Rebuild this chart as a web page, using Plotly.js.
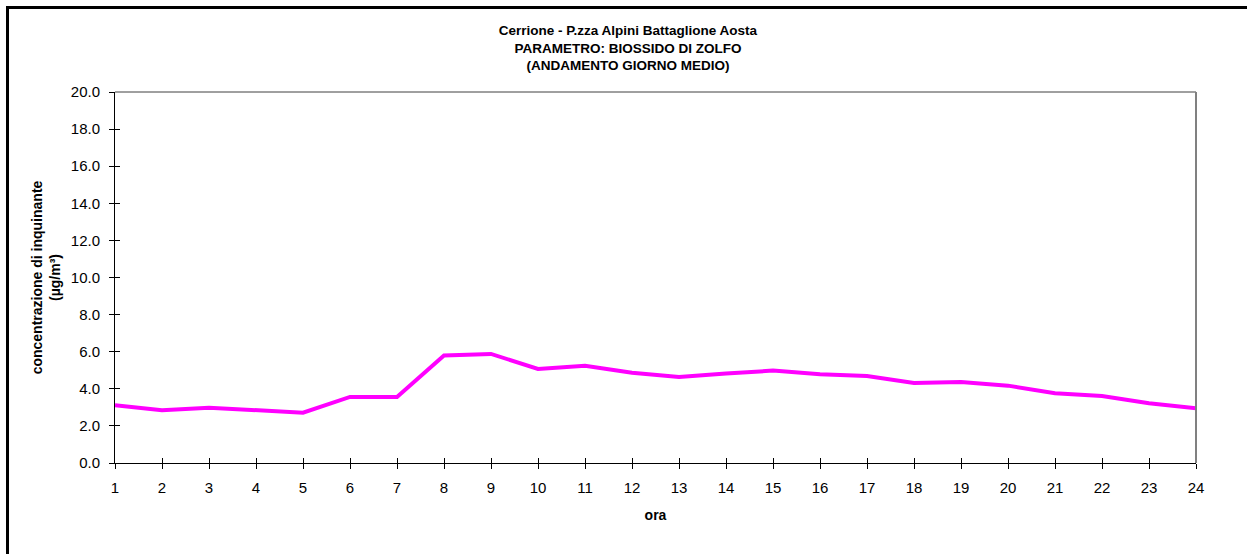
<!DOCTYPE html>
<html>
<head>
<meta charset="utf-8">
<script src="https://cdn.plot.ly/plotly-3.0.1.min.js"></script>
<style>
html,body{margin:0;padding:0;background:#fff;overflow:hidden;}
#wrap{position:relative;width:1247px;height:554px;}
#frame{position:absolute;left:6px;top:6px;width:1400px;height:700px;border:3px solid #000;pointer-events:none;z-index:10;}
#chart{position:absolute;left:0;top:0;width:1247px;height:554px;}
</style>
</head>
<body>
<div id="wrap"><div id="chart"></div><div id="frame"></div></div>
<script>
const hours = [1,2,3,4,5,6,7,8,9,10,11,12,13,14,15,16,17,18,19,20,21,22,23,24];
const so2 = [3.11,2.84,2.98,2.84,2.71,3.56,3.56,5.80,5.88,5.07,5.24,4.87,4.64,4.83,4.98,4.78,4.69,4.31,4.37,4.17,3.76,3.61,3.22,2.95];
const titleLines = ["Cerrione - P.zza Alpini Battaglione Aosta","PARAMETRO: BIOSSIDO DI ZOLFO","(ANDAMENTO GIORNO MEDIO)"];
const xTitle = "ora";
const yTitle = "concentrazione di inquinante<br>(µg/m³)";

const font = "Arial, 'Liberation Sans', sans-serif";
const trace = {x: hours, y: so2, type: 'scatter', mode: 'lines',
  line: {color: '#FF00FF', width: 4}, hoverinfo: 'skip', showlegend: false};
const dummy = {x: [1,24], y: [0,0], xaxis: 'x2', yaxis: 'y2', mode: 'markers',
  marker: {opacity: 0}, hoverinfo: 'skip', showlegend: false};

const layout = {
  width: 1247, height: 554,
  margin: {l: 115, r: 51, t: 92, b: 91},
  paper_bgcolor: '#fff', plot_bgcolor: '#fff',
  font: {family: font, color: '#000', size: 15},
  title: {text: '<b>' + titleLines.join('<br>') + '</b>', font: {family: font, size: 13.5, color: '#000'},
    x: 0.5036, xref: 'container', xanchor: 'center', y: 1 - 35/554, yref: 'container', yanchor: 'top'},
  xaxis: {range: [1, 24], tickmode: 'array', tickvals: hours, ticktext: hours.map(String),
    showgrid: false, zeroline: false, showline: true, linecolor: '#000', linewidth: 1,
    ticks: 'outside', ticklen: 5, tickcolor: '#000', tickwidth: 1, ticklabelstandoff: 6,
    tickfont: {size: 15},
    title: {text: '<b>' + xTitle + '</b>', font: {size: 14}, standoff: 15}},
  yaxis: {range: [0, 20], dtick: 2, tick0: 0, tickformat: '.1f',
    showgrid: false, zeroline: false, showline: true, linecolor: '#000', linewidth: 1,
    ticks: 'outside', ticklen: 5, tickcolor: '#000', tickwidth: 1, ticklabelstandoff: 6,
    tickfont: {size: 15},
    title: {text: '<b>' + yTitle + '</b>', font: {size: 14}, standoff: 6}},
  xaxis2: {overlaying: 'x', matches: 'x', range: [1, 24], tickmode: 'array', tickvals: hours,
    showticklabels: false, showgrid: false, zeroline: false, showline: false,
    ticks: 'inside', ticklen: 5, tickcolor: '#000', side: 'bottom'},
  yaxis2: {overlaying: 'y', matches: 'y', range: [0, 20], dtick: 2, tick0: 0,
    showticklabels: false, showgrid: false, zeroline: false, showline: false,
    ticks: 'inside', ticklen: 5, tickcolor: '#000', side: 'left'},
  shapes: [
    {type: 'line', xref: 'paper', yref: 'paper', x0: 0, x1: 1, y0: 1, y1: 1, line: {color: '#404040', width: 1}},
    {type: 'line', xref: 'paper', yref: 'paper', x0: 1, x1: 1, y0: 0, y1: 1, line: {color: '#808080', width: 2}}
  ]
};
Plotly.newPlot('chart', [trace, dummy], layout, {staticPlot: true, displayModeBar: false});
</script>
</body>
</html>
